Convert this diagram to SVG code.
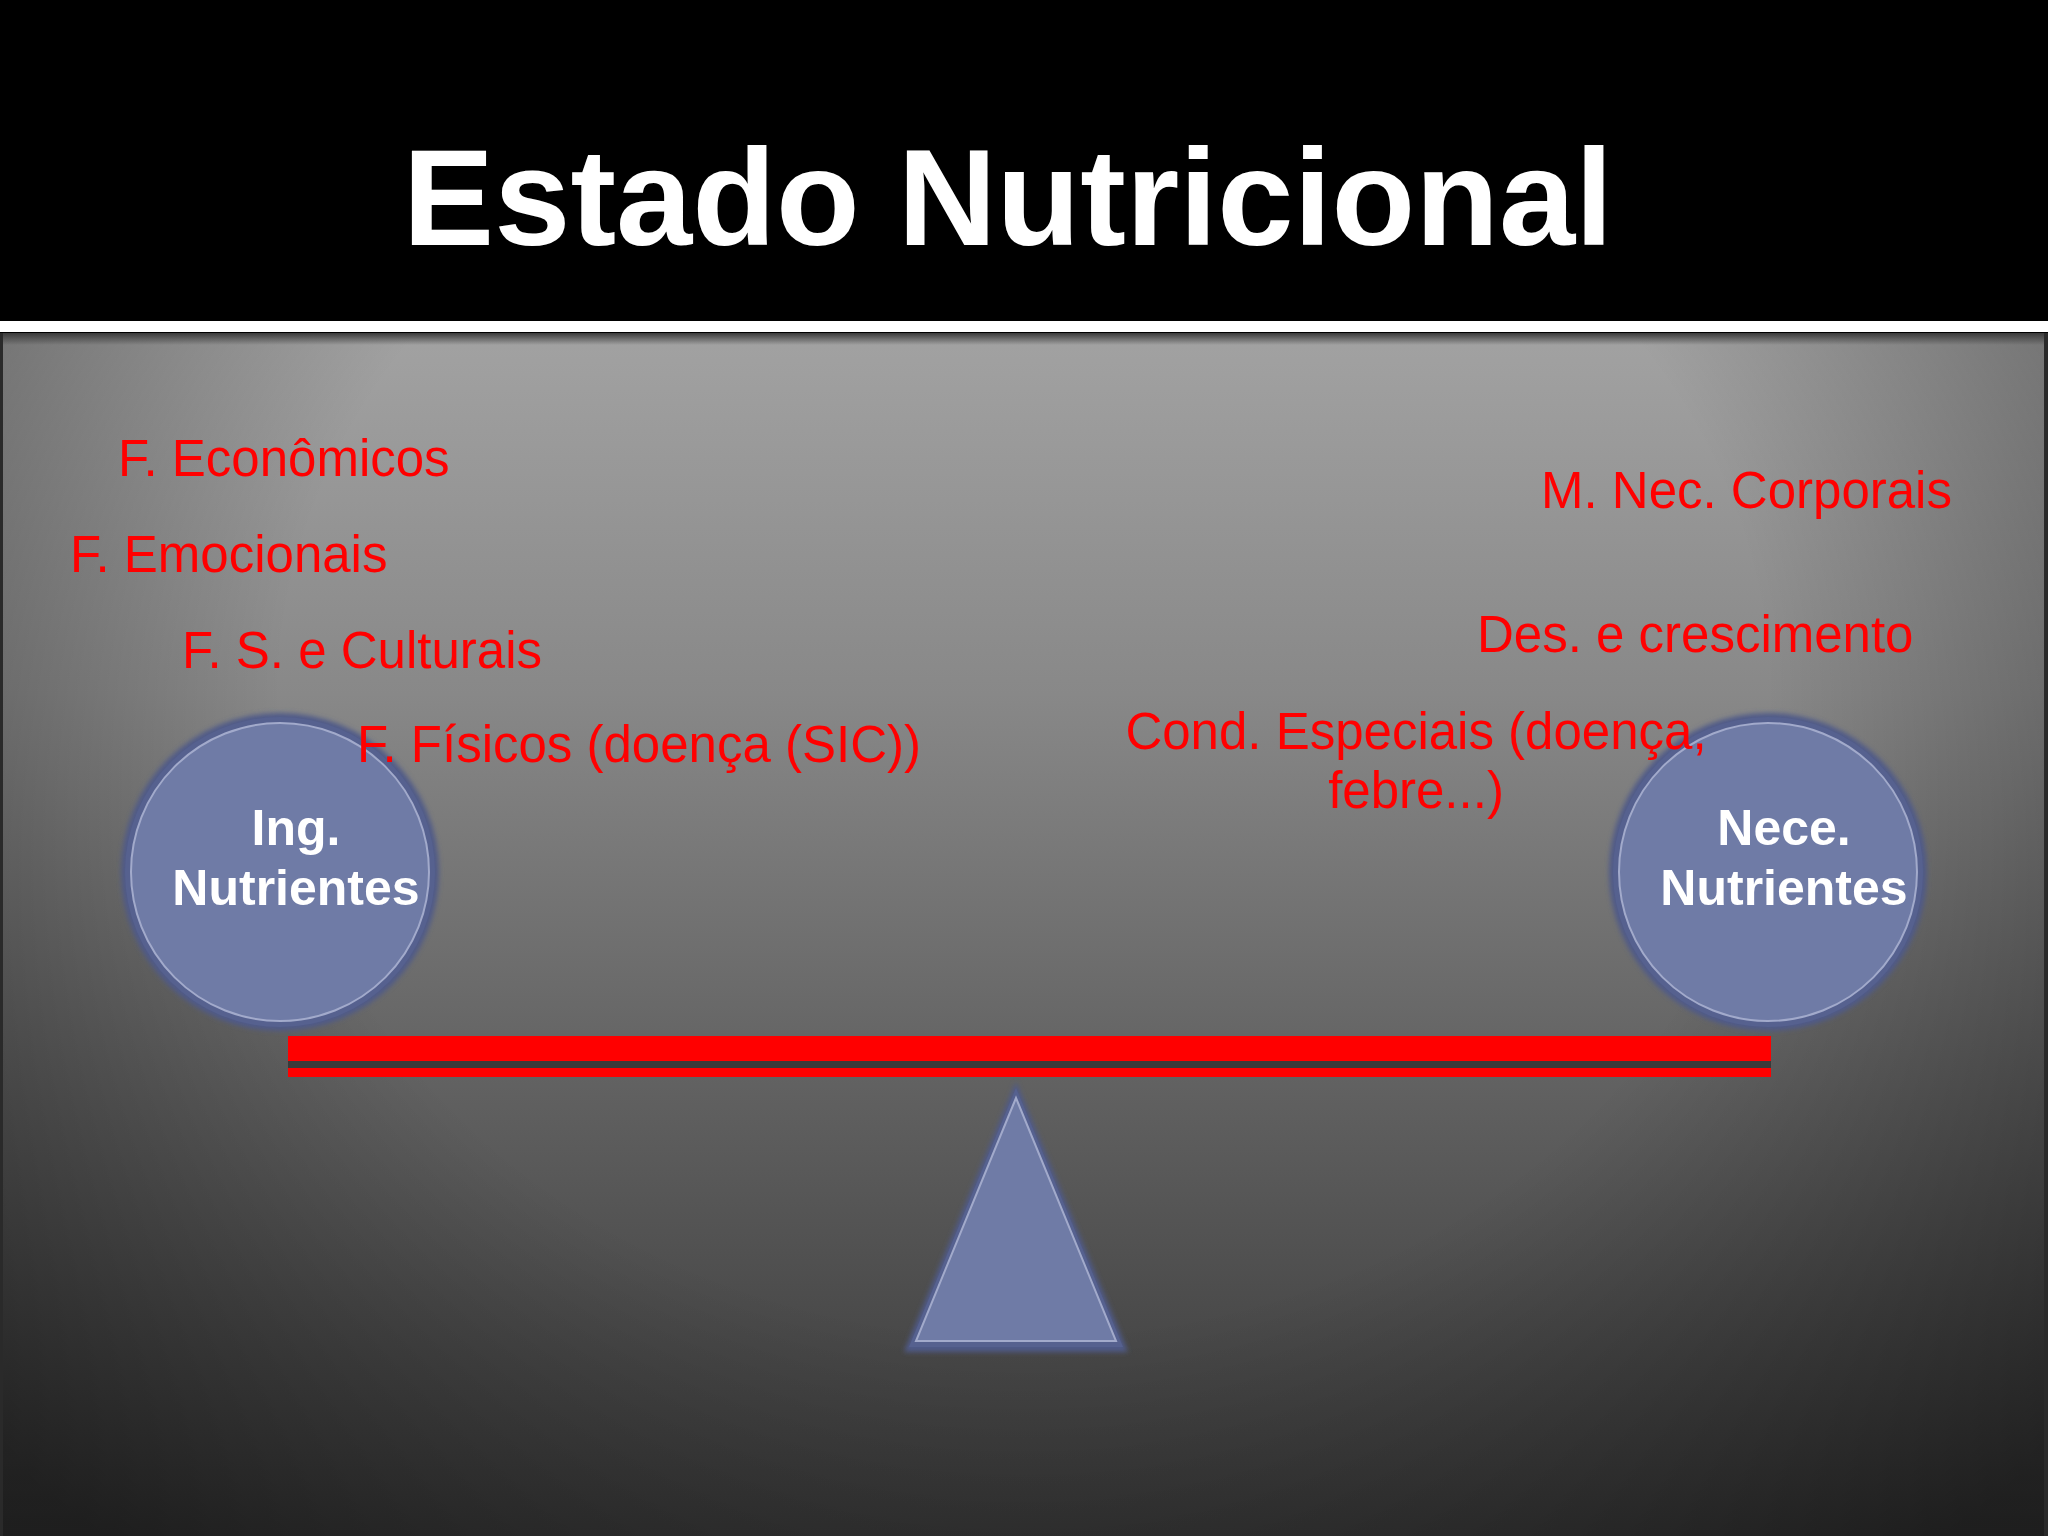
<svg xmlns="http://www.w3.org/2000/svg" width="2048" height="1536" viewBox="0 0 2048 1536">
  <defs>
    <linearGradient id="bgV" x1="0" y1="333" x2="0" y2="1536" gradientUnits="userSpaceOnUse">
      <stop offset="0" stop-color="#a2a2a2"/>
      <stop offset="0.3" stop-color="#888888"/>
      <stop offset="0.6" stop-color="#646464"/>
      <stop offset="0.85" stop-color="#474747"/>
      <stop offset="1" stop-color="#363636"/>
    </linearGradient>
    <radialGradient id="vign" cx="1024" cy="700" r="1350" gradientUnits="userSpaceOnUse" gradientTransform="translate(1024 700) scale(1 0.85) translate(-1024 -700)">
      <stop offset="0.55" stop-color="#000" stop-opacity="0"/>
      <stop offset="1" stop-color="#000" stop-opacity="0.45"/>
    </radialGradient>
    <linearGradient id="topShade" x1="0" y1="333" x2="0" y2="345" gradientUnits="userSpaceOnUse">
      <stop offset="0" stop-color="#3a3a3a"/>
      <stop offset="1" stop-color="#3a3a3a" stop-opacity="0"/>
    </linearGradient>
    <filter id="glow" x="-10%" y="-10%" width="120%" height="120%">
      <feGaussianBlur stdDeviation="2.5"/>
    </filter>
  </defs>
  <style>
    .title { font-family: "Liberation Sans", Arial, sans-serif; font-weight: bold; font-size: 137px; fill: #ffffff; }
    .factor { font-family: "Liberation Sans", Arial, sans-serif; font-size: 51px; fill: #ff0000; }
    .node-label { font-family: "Liberation Sans", Arial, sans-serif; font-weight: bold; font-size: 50px; fill: #ffffff; text-anchor: middle; }
    .shape-glow { fill: #4f5a88; }
    .shape-edge { fill: #56618f; }
    .shape-fill { fill: #6f7ba6; stroke: #a2aacb; stroke-width: 2; }
    .beam { fill: #ff0000; }
  </style>

  <!-- background -->
  <rect x="0" y="0" width="2048" height="1536" fill="#000"/>
  <rect x="0" y="333" width="2048" height="1203" fill="url(#bgV)"/>
  <rect x="0" y="333" width="2048" height="1203" fill="url(#vign)"/>
  <rect x="0" y="333" width="2048" height="14" fill="url(#topShade)"/>
  <rect x="0" y="333" width="3" height="1203" fill="#2a2a2a"/>
  <rect x="2044" y="333" width="4" height="1203" fill="#2a2a2a"/>
  <rect x="0" y="321" width="2048" height="11" fill="#ffffff"/>

  <text class="title" x="1008" y="245" text-anchor="middle">Estado Nutricional</text>

  <!-- fulcrum -->
  <g id="fulcrum">
    <polygon class="shape-glow" points="1016,1082 904,1352 1128,1352" filter="url(#glow)"/>
    <polygon class="shape-edge" points="1016,1088 909,1347 1123,1347"/>
    <polygon class="shape-fill" points="1016,1098 916,1341 1116,1341"/>
  </g>

  <!-- beam -->
  <g id="beam">
    <rect x="288" y="1061" width="1483" height="7" fill="#3a3a3a"/>
    <rect class="beam" x="288" y="1036" width="1483" height="25"/>
    <rect class="beam" x="288" y="1068" width="1483" height="9"/>
  </g>

  <!-- left pan -->
  <g id="ing-nutrientes">
    <circle class="shape-glow" cx="280" cy="872" r="159" filter="url(#glow)"/>
    <circle class="shape-edge" cx="280" cy="872" r="155"/>
    <circle class="shape-fill" cx="280" cy="872" r="149"/>
    <text class="node-label" x="296" y="845">Ing.</text>
    <text class="node-label" x="296" y="905">Nutrientes</text>
  </g>

  <!-- right pan -->
  <g id="nece-nutrientes">
    <circle class="shape-glow" cx="1768" cy="872" r="159" filter="url(#glow)"/>
    <circle class="shape-edge" cx="1768" cy="872" r="155"/>
    <circle class="shape-fill" cx="1768" cy="872" r="149"/>
    <text class="node-label" x="1784" y="845">Nece.</text>
    <text class="node-label" x="1784" y="905">Nutrientes</text>
  </g>

  <!-- left factors -->
  <g id="left-factors">
    <text class="factor" x="118" y="476">F. Econômicos</text>
    <text class="factor" x="70" y="572">F. Emocionais</text>
    <text class="factor" x="182" y="668">F. S. e Culturais</text>
    <text class="factor" x="357" y="762">F. Físicos (doença (SIC))</text>
  </g>

  <!-- right factors -->
  <g id="right-factors">
    <text class="factor" x="1541" y="508">M. Nec. Corporais</text>
    <text class="factor" x="1477" y="652">Des. e crescimento</text>
    <text class="factor" x="1416" y="749" text-anchor="middle">Cond. Especiais (doença,</text>
    <text class="factor" x="1416" y="808" text-anchor="middle">febre...)</text>
  </g>

  <g id="connectors"/>
</svg>
